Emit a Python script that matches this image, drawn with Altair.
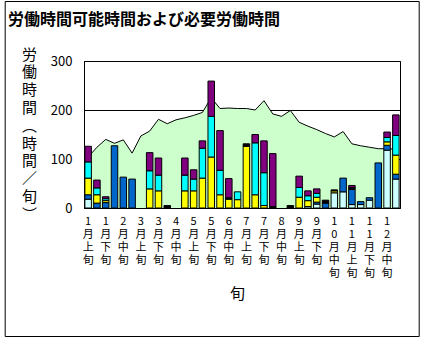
import altair as alt
import pandas as pd

# categories (旬)
months = [str(m) for m in range(1, 13)]
parts = ["上", "中", "下"]
categories = [f"{m}月{p}旬" for m in months for p in parts]
label_cats = categories[::2]

series_names = ["系列1", "系列2", "系列3", "系列4", "系列5", "系列6"]
series_colors = ["#CCFFFF", "#0066CC", "#FFFF00", "#00FFFF", "#000000", "#800080"]

s1 = [18, 0, 0, 0, 0, 0, 0, 0, 0, 0, 0, 0, 0, 0, 0, 0, 0, 0,
      0, 0, 0, 0, 0, 0, 0, 3, 8, 0, 31, 33, 7, 7, 16, 0, 118, 59]
s2 = [9, 10, 11, 127, 63, 59, 0, 0, 0, 0, 0, 0, 0, 0, 0, 0, 0, 0,
      0, 0, 0, 0, 0, 0, 0, 0, 4, 10, 0, 28, 31, 6, 5, 92, 10, 10]
s3 = [34, 17, 4, 0, 0, 0, 0, 39, 35, 0, 0, 35, 35, 61, 104, 27, 18, 17,
      126, 27, 5, 0, 0, 0, 22, 12, 10, 0, 4, 0, 0, 0, 0, 0, 7, 39]
s4 = [33, 14, 4, 0, 0, 0, 0, 37, 32, 0, 0, 32, 24, 61, 83, 50, 0, 16,
      0, 106, 67, 0, 0, 0, 20, 10, 8, 0, 0, 0, 0, 0, 0, 0, 9, 40]
s5 = [0, 0, 0, 0, 0, 0, 0, 0, 0, 5, 0, 0, 0, 0, 0, 0, 3, 0,
      5, 0, 0, 3, 0, 5, 0, 0, 0, 6, 2, 0, 4, 0, 0, 0, 0, 0]
s6 = [32, 16, 4, 0, 0, 0, 0, 37, 35, 0, 0, 35, 19, 15, 72, 81, 39, 0,
      0, 17, 65, 108, 0, 0, 23, 10, 9, 0, 0, 0, 4, 0, 0, 0, 11, 42]

available = [104, 124, 140, 132, 139, 112, 147, 157, 181, 172, 180, 184,
             189, 195, 225, 203, 204, 203, 203, 200, 219, 192, 187, 199,
             175, 167, 160, 152, 145, 156, 131, 127, 124, 121, 121, 120]

rows = []
for k, (name, vals) in enumerate(zip(series_names, [s1, s2, s3, s4, s5, s6])):
    for c, v in zip(categories, vals):
        rows.append({"旬": c, "系列": name, "順": k, "時間": v})
bars_df = pd.DataFrame(rows)
area_df = pd.DataFrame({"旬": categories, "可能時間": available})

FONT = "Noto Sans CJK JP"

x_enc = alt.X(
    "旬:N",
    sort=categories,
    scale=alt.Scale(paddingInner=0.26, paddingOuter=0.1),
    axis=alt.Axis(
        values=label_cats,
        labelExpr="split(datum.value, '')",
        labelAngle=0,
        labelFontSize=11,
        labelLineHeight=13,
        labelPadding=7,
        labelBaseline="top",
        labelColor="black",
        labelOverlap=False,
        labelBound=False,
        ticks=False,
        domainColor="black",
        title="旬",
        titleFontSize=15,
        titleFontWeight="normal",
        titleColor="black",
        titleX=153,
        titleY=85,
        titleAlign="center",
        titleBaseline="middle",
    ),
)

y_axis = alt.Axis(
    values=[0, 100, 200, 300],
    labelFontSize=13,
    labelPadding=12,
    labelColor="black",
    ticks=False,
    grid=True,
    gridColor="black",
    gridOpacity=1,
    domainColor="black",
    title=["労", "働", "時", "間", "︵", "時", "間", "／", "旬", "︶"],
    titleAngle=0,
    titleFontSize=15,
    titleFontWeight="normal",
    titleColor="black",
    titleLineHeight=17.8,
    titleX=-55,
    titleY=-14,
    titleAlign="center",
    titleBaseline="top",
)

area = alt.Chart(area_df).mark_area(
    color="#CCFFCC", opacity=1,
    line={"color": "black", "strokeWidth": 1},
).encode(
    x=x_enc,
    y=alt.Y("可能時間:Q", scale=alt.Scale(domain=[0, 300]), axis=y_axis),
)

bars = alt.Chart(bars_df).transform_filter("datum['時間'] > 0").mark_bar(
    stroke="black", strokeWidth=1, opacity=1
).encode(
    x=x_enc,
    y=alt.Y("時間:Q", stack="zero", scale=alt.Scale(domain=[0, 300]), axis=y_axis),
    color=alt.Color("系列:N", scale=alt.Scale(domain=series_names, range=series_colors), legend=None),
    order=alt.Order("順:Q", sort="ascending"),
)

frame = alt.Chart(pd.DataFrame({"f": [0]})).mark_rect(
    fillOpacity=0, stroke="black", strokeWidth=1
).encode(
    x=alt.value(-78.8), x2=alt.value(335.2),
    y=alt.value(-59.5), y2=alt.value(275.5),
)

chart = alt.layer(area, bars, frame).properties(
    width=316,
    height=147,
    title=alt.TitleParams(
        "労働時間可能時間および必要労働時間",
        anchor="start", frame="group", fontSize=16, fontWeight="bold",
        color="black", dx=-76, offset=-27,
    ),
    autosize=alt.AutoSizeParams(type="none"),
    padding={"left": 84, "top": 61, "right": 27, "bottom": 133},
).configure(
    font=FONT,
    background="white",
).configure_view(
    stroke="black", strokeWidth=1,
)

chart.save("out.html", embed_options={"renderer": "svg", "actions": False})
